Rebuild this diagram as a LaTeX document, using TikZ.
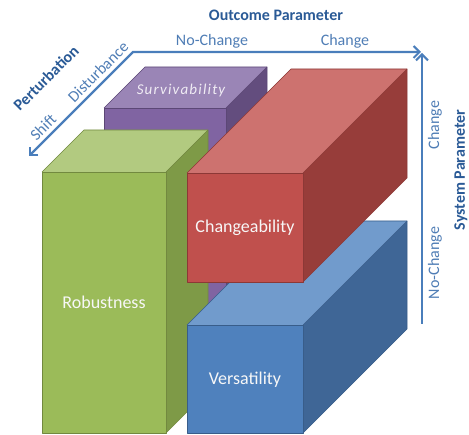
\documentclass[tikz,border=0pt]{standalone}
\usepackage{fontspec}
\setmainfont{Carlito}
\usetikzlibrary{arrows.meta}

% face colours of the four blocks
\definecolor{grnF}{HTML}{9BBB59}\definecolor{grnT}{HTML}{B2CA80}\definecolor{grnS}{HTML}{7E9A47}\definecolor{grnB}{HTML}{72893F}
\definecolor{redF}{HTML}{C0504D}\definecolor{redT}{HTML}{CD726F}\definecolor{redS}{HTML}{973D3A}\definecolor{redB}{HTML}{8C3836}
\definecolor{bluF}{HTML}{4F81BD}\definecolor{bluT}{HTML}{719BCC}\definecolor{bluS}{HTML}{3F6696}\definecolor{bluB}{HTML}{385D8A}
\definecolor{purF}{HTML}{8064A2}\definecolor{purT}{HTML}{9A85B6}\definecolor{purS}{HTML}{634D7E}\definecolor{purB}{HTML}{5C4776}
\definecolor{axisC}{HTML}{4A7EBB}
\definecolor{axisT}{HTML}{4F7DB5}
\definecolor{axisH}{HTML}{2A5A96}

% cuboid: #1,#2 front top-left corner, #3 width, #4 height, #5 depth, #6 colour prefix
\newcommand\drawblock[6]{%
  \fill[#6F] (#1,#2) rectangle ++(#3,#4);
  \fill[#6T] (#1,#2) -- ++(#5,-#5) -- ++(#3,0) -- ++(-#5,#5) -- cycle;
  \fill[#6S] (#1+#3,#2) -- ++(#5,-#5) -- ++(0,#4) -- ++(-#5,#5) -- cycle;
  \draw[blockedge,#6B] (#1,#2) rectangle ++(#3,#4);
  \draw[blockedge,#6B] (#1,#2) -- ++(#5,-#5) -- ++(#3,0) -- ++(0,#4) -- ++(-#5,#5);
  \draw[blockedge,#6B] (#1+#3,#2) -- ++(#5,-#5);
}

\tikzset{
  blockedge/.style={line width=0.7pt, line join=round},
  axisline/.style={draw=axisC, line width=2.2pt, line join=miter,
    arrows={Straight Barb[length=6pt,width=12pt,line width=2pt]-Straight Barb[length=6pt,width=12pt,line width=2pt]}},
  axislabel/.style={text=axisT, font=\fontsize{16}{18}\selectfont, inner sep=0pt},
  axistitle/.style={text=axisH, font=\fontsize{16}{18}\selectfont\bfseries, inner sep=0pt},
  blocklabel/.style={text=white!94!gray, font=\fontsize{18}{20}\selectfont, inner sep=0pt},
}

\begin{document}
\begin{tikzpicture}[x=1pt,y=-1pt]
\useasboundingbox (0,0) rectangle (469,435);

% blocks, back to front
\drawblock{104}{108}{122}{250}{41}{pur}
\drawblock{42}{172}{124}{261}{42}{grn}
\drawblock{187}{325}{116}{108}{104}{blu}
\drawblock{187}{173}{116}{109}{104}{red}

\node[blocklabel] (rob) at (104,302) {Robustness};
\node[blocklabel] (chg) at (245,228) {Changeability};
\node[blocklabel] (ver) at (245,380) {Versatility};
\node[blocklabel, text=white!88!purF, font=\fontsize{15}{17}\selectfont\itshape\addfontfeatures{LetterSpace=8}] (sur) at (181,91) {Survivability};

% axes
\coordinate (hcorner) at (133,52);
\coordinate (htip) at (421,52);
\coordinate (dtip) at (29,156);
\coordinate (vtip) at (422,53);
\coordinate (vbase) at (422,324);
\draw[axisline] (dtip) -- (hcorner) -- (htip);
\draw[axisline, arrows={-Straight Barb[length=6pt,width=12pt,line width=2pt]}] (vbase) -- (vtip);

% axis labels
\node[axistitle] (outcome) at (276,15) {Outcome Parameter};
\node[axislabel] (onc) at (212,41) {No-Change};
\node[axislabel] (oc) at (345,41) {Change};

\node[axistitle, rotate=45] (pert) at (46,78) {Perturbation};
\node[axislabel, rotate=45] (dist) at (98,72) {Disturbance};
\node[axislabel, rotate=45] (shift) at (43,127) {Shift};

\node[axistitle, rotate=90] (sys) at (461,170) {System Parameter};
\node[axislabel, rotate=90] (sc) at (435,125) {Change};
\node[axislabel, rotate=90] (snc) at (435,263) {No-Change};
\end{tikzpicture}
\end{document}
